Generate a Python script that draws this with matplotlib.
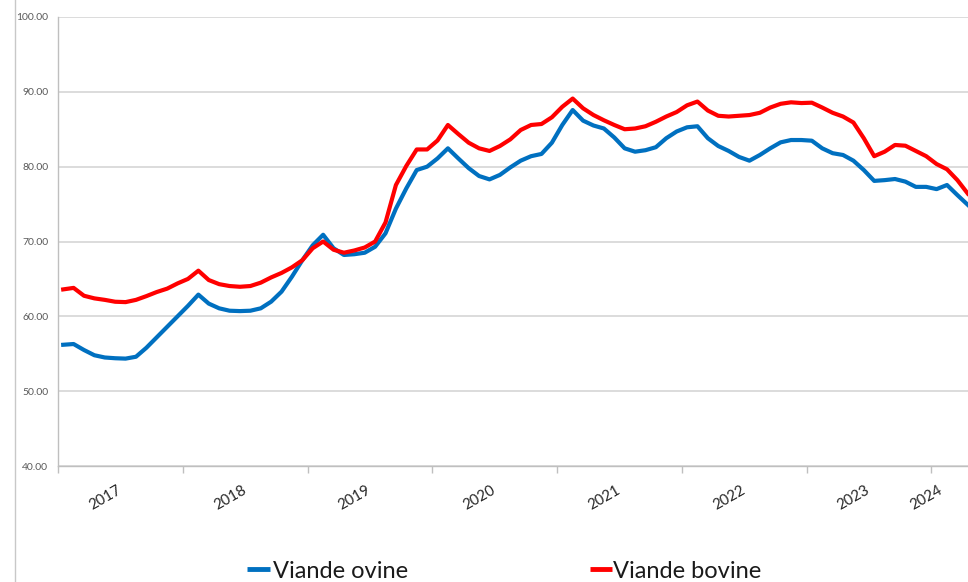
import matplotlib
matplotlib.use("Agg")
import matplotlib.pyplot as plt
from matplotlib.lines import Line2D
import matplotlib.transforms as mtransforms
import pandas as pd

# ---- data -------------------------------------------------------------
months = pd.period_range("2017-01", "2024-04", freq="M").astype(str).tolist()

ovine = [56.2, 56.3, 55.5, 54.8, 54.5, 54.4, 54.35, 54.6, 55.8, 57.2, 58.6, 60.0,
         61.4, 62.9, 61.7, 61.07, 60.75, 60.7, 60.75, 61.07, 61.96, 63.3, 65.3, 67.5,
         69.5, 70.9, 69.1, 68.2, 68.3, 68.5, 69.3, 71.1, 74.4, 77.1, 79.55, 80.0,
         81.1, 82.45, 81.1, 79.8, 78.75, 78.3, 78.9, 79.9, 80.8, 81.4, 81.7, 83.2,
         85.57, 87.57, 86.15, 85.5, 85.1, 83.9, 82.45, 82.0, 82.2, 82.6, 83.8, 84.7,
         85.26, 85.4, 83.8, 82.76, 82.1, 81.3, 80.8, 81.56, 82.45, 83.25, 83.56, 83.56,
         83.47, 82.45, 81.8, 81.56, 80.8, 79.55, 78.1, 78.2, 78.35, 78.0, 77.3, 77.3,
         77.0, 77.55, 76.2, 74.9]

bovine = [63.6, 63.8, 62.75, 62.4, 62.2, 61.95, 61.9, 62.2, 62.7, 63.25, 63.7, 64.4,
          65.0, 66.1, 64.85, 64.3, 64.05, 63.95, 64.05, 64.5, 65.2, 65.8, 66.55, 67.5,
          69.1, 70.0, 68.9, 68.5, 68.8, 69.2, 70.0, 72.55, 77.55, 80.1, 82.3, 82.3,
          83.5, 85.57, 84.36, 83.2, 82.45, 82.1, 82.76, 83.65, 84.9, 85.57, 85.7, 86.6,
          88.0, 89.1, 87.8, 86.9, 86.2, 85.57, 85.0, 85.1, 85.4, 86.0, 86.7, 87.3,
          88.2, 88.7, 87.5, 86.8, 86.7, 86.8, 86.9, 87.2, 87.9, 88.4, 88.6, 88.5,
          88.55, 87.9, 87.2, 86.7, 85.9, 83.8, 81.4, 82.0, 82.9, 82.8, 82.1, 81.4,
          80.35, 79.65, 78.2, 76.4]

year_labels = ["2017", "2018", "2019", "2020", "2021", "2022", "2023", "2024"]
year_label_months = ["2017-06", "2018-06", "2019-06", "2020-06", "2021-06",
                     "2022-06", "2023-06", "2024-01"]
series_names = ["Viande ovine", "Viande bovine"]

# ---- figure -----------------------------------------------------------
W, H = 968, 582
fig = plt.figure(figsize=(W / 100, H / 100), dpi=100)
plt.rcParams["font.family"] = ["Lato", "DejaVu Sans"]

left_px, right_px, top_px, bottom_px = 58, 968, 17, 466
ax = fig.add_axes([left_px / W, 1 - bottom_px / H,
                   (right_px - left_px) / W, (bottom_px - top_px) / H])

x = list(range(len(months)))
blue = "#0070C0"
red = "#FF0000"
ax.plot(x, ovine, color=blue, lw=3.0, solid_joinstyle="round", zorder=3)
ax.plot(x, bovine, color=red, lw=3.0, solid_joinstyle="round", zorder=4)

ax.set_ylim(40, 100)
ax.set_xlim(-0.5, 87.02)
ax.set_yticks(range(40, 101, 10))
ax.set_yticklabels([f"{v:.2f}" for v in range(40, 101, 10)])
ax.yaxis.grid(True, color="#d9d9d9", lw=1.3)
ax.set_axisbelow(True)
ax.tick_params(axis="y", length=0, pad=7, labelsize=7.5, labelcolor="#595959")

# year boundary tick marks
ax.set_xticks([i - 0.5 for i in range(0, len(months), 12)])
ax.set_xticklabels([])
ax.tick_params(axis="x", length=5, width=1, color="#bfbfbf", direction="out")

for s in ["top", "right"]:
    ax.spines[s].set_visible(False)
for s in ["left", "bottom"]:
    ax.spines[s].set_color("#bfbfbf")
    ax.spines[s].set_linewidth(1.0)

trans = mtransforms.blended_transform_factory(ax.transData, ax.transAxes)
for lab, m in zip(year_labels, year_label_months):
    xi = months.index(m) + 0.5
    ax.text(xi, -23 / (bottom_px - top_px), lab, transform=trans, rotation=30,
            rotation_mode="anchor", ha="right", va="center", fontsize=10.8,
            color="#262626")

# chart border on the left
fig.add_artist(Line2D([15.5 / W, 15.5 / W], [0, 1], transform=fig.transFigure,
                      color="#c8c8c8", lw=1.0))

# legend (manual)
ly = 1 - 569 / H
for name, col, x0, x1, tx in [(series_names[0], blue, 247, 270, 273),
                              (series_names[1], red, 590, 612, 613)]:
    fig.add_artist(Line2D([x0 / W, x1 / W], [ly, ly], transform=fig.transFigure,
                          color=col, lw=3.5, solid_capstyle="butt"))
    fig.text(tx / W, ly, name, fontsize=17, color="#1a1a1a", ha="left",
             va="center_baseline")

fig.savefig("out.png", dpi=100)
